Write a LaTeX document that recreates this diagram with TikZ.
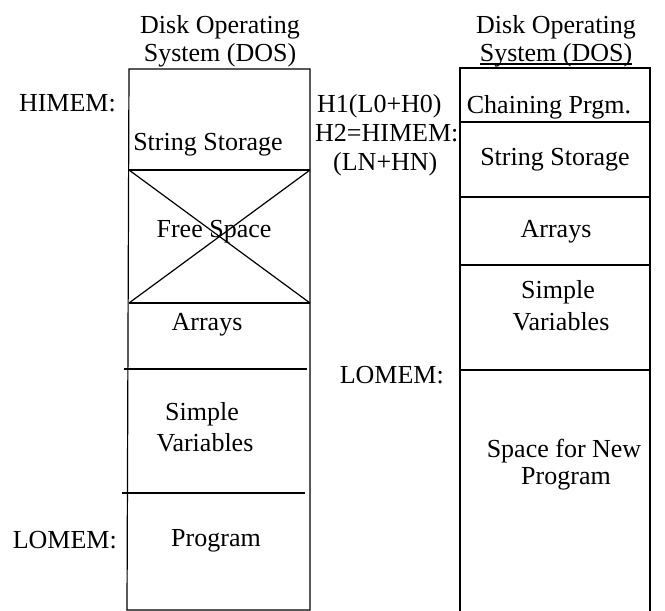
\documentclass[tikz,border=0pt]{standalone}
\usepackage{fontspec}
\setmainfont{Liberation Serif}
\begin{document}
\begin{tikzpicture}[x=1pt,y=-1pt,
  lbl/.style={font=\fontsize{26}{30}\selectfont, inner sep=0pt, anchor=base},
  lblr/.style={lbl, anchor=base east},
  lbll/.style={lbl, anchor=base west},
  thin/.style={line width=1.2pt},
  thick2/.style={line width=2.8pt}]
\useasboundingbox[fill=white] (0,0) rectangle (665,611);
% ---------- left column ----------
\node[lbl] (dosL1) at (220,33) {Disk Operating};
\node[lbl] (dosL2) at (220,61) {System (DOS)};
\coordinate (LTL) at (129,69);
\coordinate (LTR) at (310,69);
\coordinate (L1l) at (129,170);
\coordinate (L1r) at (310,170);
\coordinate (L2l) at (129,303);
\coordinate (L2r) at (310,303);
\coordinate (L3l) at (124,369);
\coordinate (L3r) at (307,369);
\coordinate (L4l) at (122,493);
\coordinate (L4r) at (305,493);
\coordinate (LBL) at (127,610);
\coordinate (LBR) at (310,610);
\draw[thin] (LBL) -- (LTL) -- (LTR) -- (LBR) -- cycle;
\draw[thin] (L1l) -- (L1r);
\draw[thin] (L2l) -- (L2r);
\draw[thin] (L1l) -- (L2r);
\draw[thin] (L1r) -- (L2l);
\draw[thick2] (L3l) -- (L3r);
\draw[thick2] (L4l) -- (L4r);
\node[lbl] (ssL) at (208,150) {String Storage};
\node[lbl] (free) at (214,237) {Free Space};
\node[lbl] (arrL) at (207,330) {Arrays};
\node[lbl] (simL1) at (202,420) {Simple};
\node[lbl] (simL2) at (205,451) {Variables};
\node[lbl] (prog) at (216,546) {Program};
\node[lblr] (himem) at (116,111) {HIMEM:};
\node[lblr] (lomemL) at (117,548) {LOMEM:};
% ---------- middle labels ----------
\node[lbll] (h1) at (317,112) {H1(L0+H0)};
\node[lbll] (h2) at (315,141) {H2=HIMEM:};
\node[lbll] (ln) at (333,170) {(LN+HN)};
\node[lblr] (lomemR) at (444,383) {LOMEM:};
% ---------- right column ----------
\node[lbl] (dosR1) at (556,33) {Disk Operating};
\node[lbl] (dosR2) at (556,61) {System (DOS)};
\draw[thin] ([yshift=-3pt]dosR2.base west) -- ([yshift=-3pt]dosR2.base east);
\coordinate (RTL) at (460,68);
\coordinate (RTR) at (650,68);
\coordinate (RBL) at (460,611);
\coordinate (RBR) at (650,611);
\coordinate (R1l) at (460,122);
\coordinate (R1r) at (650,122);
\coordinate (R2l) at (460,197);
\coordinate (R2r) at (650,197);
\coordinate (R3l) at (460,265);
\coordinate (R3r) at (650,265);
\coordinate (R4l) at (460,370);
\coordinate (R4r) at (650,370);
\draw[thin] (RBL) -- (RTL) -- (RTR) -- (RBR);
\draw[thin] (R1l) -- (R1r);
\draw[thin] (R2l) -- (R2r);
\draw[thin] (R3l) -- (R3r);
\draw[thin] (R4l) -- (R4r);
\node[lbl] (chain) at (549,113) {Chaining Prgm.};
\node[lbl] (ssR) at (555,165) {String Storage};
\node[lbl] (arrR) at (556,237) {Arrays};
\node[lbl] (simR1) at (558,298) {Simple};
\node[lbl] (simR2) at (561,330) {Variables};
\node[lbl] (spc1) at (564,457) {Space for New};
\node[lbl] (spc2) at (566,484) {Program};
\end{tikzpicture}
\end{document}
